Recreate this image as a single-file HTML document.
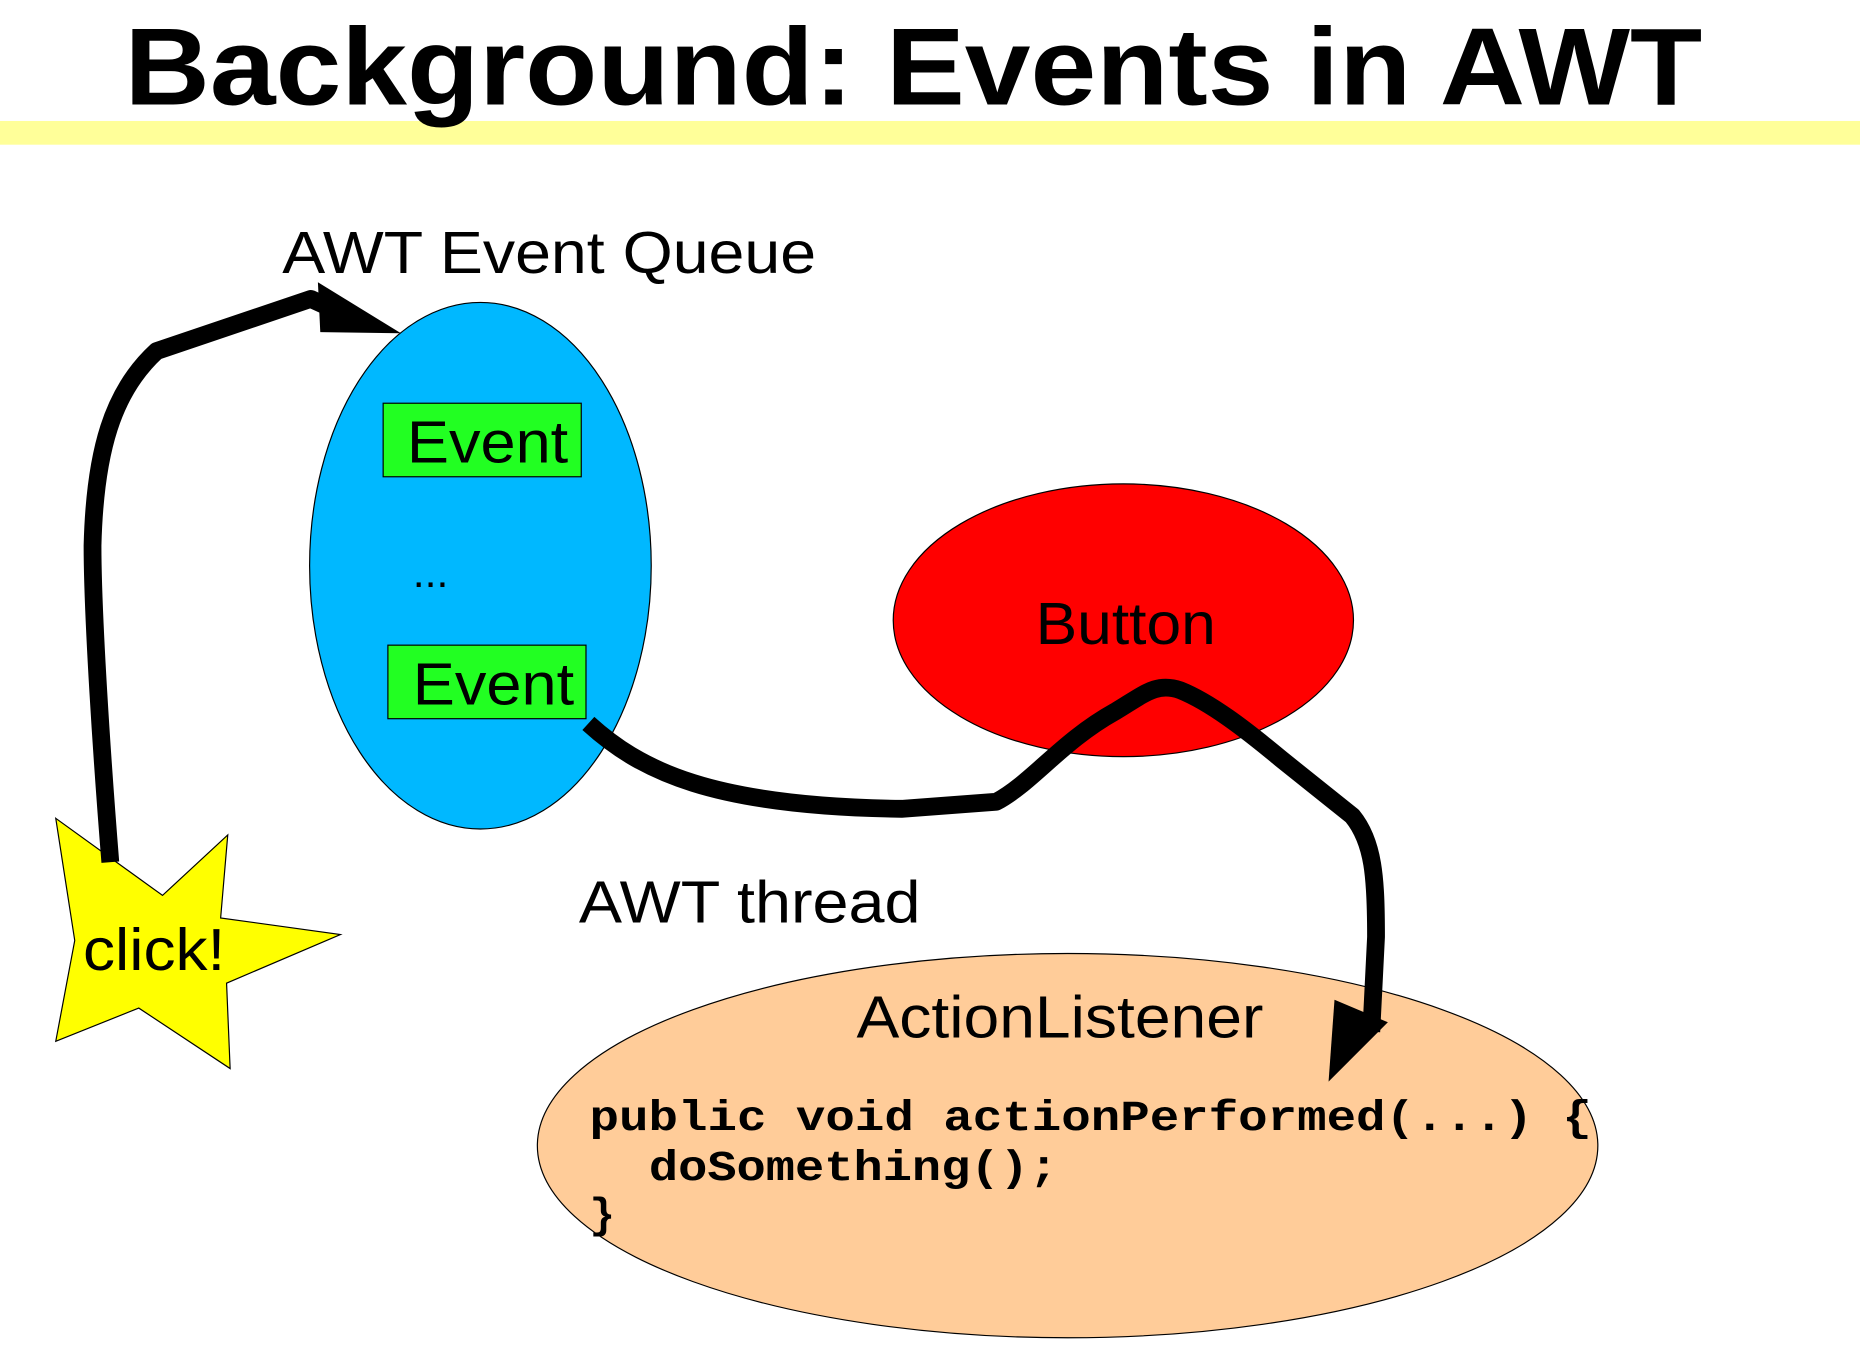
<!DOCTYPE html>
<html><head><meta charset="utf-8"><style>
html,body{margin:0;padding:0;background:#fff;width:1860px;height:1352px;overflow:hidden}
svg{display:block}
.s{font-family:"Liberation Sans","DejaVu Sans",sans-serif}
.m{font-family:"Liberation Mono","DejaVu Sans Mono",monospace;font-weight:bold}
</style></head><body>
<svg width="1860" height="1352" viewBox="0 0 1568 1140" preserveAspectRatio="none" xmlns="http://www.w3.org/2000/svg">
<rect x="0" y="102" width="1568" height="20" fill="#ffff99"/>
<text class="s" x="770" y="88" text-anchor="middle" font-size="92" font-weight="bold" fill="#000" textLength="1330" lengthAdjust="spacingAndGlyphs">Background: Events in AWT</text>
<text class="s" x="238" y="230" font-size="50" textLength="450" lengthAdjust="spacingAndGlyphs">AWT Event Queue</text>
<ellipse cx="405" cy="477" rx="144" ry="222" fill="#00b8ff" stroke="#000" stroke-width="1"/>
<rect x="323" y="340" width="167" height="62" fill="#22ff22" stroke="#000" stroke-width="1"/>
<text class="s" x="411" y="390" text-anchor="middle" font-size="50" textLength="136" lengthAdjust="spacingAndGlyphs">Event</text>
<text class="s" x="348" y="495" font-size="36">...</text>
<rect x="327" y="544" width="167" height="62" fill="#22ff22" stroke="#000" stroke-width="1"/>
<text class="s" x="416" y="594" text-anchor="middle" font-size="50" textLength="136" lengthAdjust="spacingAndGlyphs">Event</text>
<ellipse cx="947" cy="523" rx="194" ry="115" fill="#ff0000" stroke="#000" stroke-width="1"/>
<text class="s" x="949" y="543" text-anchor="middle" font-size="50" textLength="152" lengthAdjust="spacingAndGlyphs">Button</text>
<text class="s" x="488" y="778" font-size="50" textLength="288" lengthAdjust="spacingAndGlyphs">AWT thread</text>
<ellipse cx="900" cy="966" rx="447" ry="162" fill="#ffcc99" stroke="#000" stroke-width="1"/>
<text class="s" x="722" y="875" font-size="50" textLength="343" lengthAdjust="spacingAndGlyphs">ActionListener</text>
<text class="m" x="497" y="953" font-size="36" textLength="845" lengthAdjust="spacingAndGlyphs">public void actionPerformed(...) {</text>
<text class="m" x="547" y="995" font-size="36" textLength="345" lengthAdjust="spacingAndGlyphs">doSomething();</text>
<text class="m" x="497" y="1035" font-size="36">}</text>
<polygon points="47,690 137,755 192,704 186,774 287,788 191,829 194,901 117,850 47,878 63,793" fill="#ffff00" stroke="#000" stroke-width="1"/>
<text class="s" x="70" y="818" font-size="50" textLength="120" lengthAdjust="spacingAndGlyphs">click!</text>
<path d="M93,727 C86,640 78,520 78,460 C80,380 95,330 132,296 L262,252 L275,258" fill="none" stroke="#000" stroke-width="15" stroke-linejoin="round"/>
<polygon points="268,238 338,281 270,280" fill="#000"/>
<path d="M496,610 C540,650 600,680 760,682 L840,676 C870,660 895,625 940,600 C965,585 975,575 995,582 C1020,592 1050,615 1080,640 L1140,688 C1158,710 1160,740 1160,790 L1156,870" fill="none" stroke="#000" stroke-width="15" stroke-linejoin="round"/>
<polygon points="1125,843 1170,862 1120,912" fill="#000"/>
</svg>
</body></html>
